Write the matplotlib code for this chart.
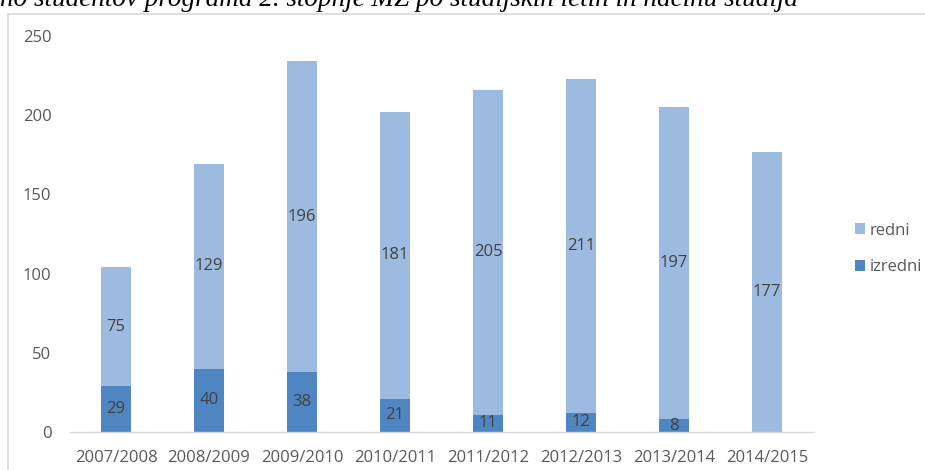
import matplotlib
matplotlib.use("Agg")
import matplotlib.pyplot as plt
from matplotlib.patches import Rectangle

years = ["2007/2008", "2008/2009", "2009/2010", "2010/2011", "2011/2012",
         "2012/2013", "2013/2014", "2014/2015"]
izredni = [29, 40, 38, 21, 11, 12, 8, 0]
redni = [75, 129, 196, 181, 205, 211, 197, 177]
yticks = [0, 50, 100, 150, 200, 250]

c_redni = "#9dbbe1"
c_izredni = "#4f86c1"
txt = "#595959"

plt.rcParams['font.family'] = ['Open Sans', 'DejaVu Sans']

W, H = 925, 470
fig = plt.figure(figsize=(W / 100, H / 100), dpi=100)
fig.patch.set_facecolor("white")

# chart border
fig.add_artist(Rectangle((8 / W, -0.01), (W - 8) / W + 0.01, (H - 13.5) / H + 0.01,
                         transform=fig.transFigure, fill=False, edgecolor="#d9d9d9", lw=1.2))

fig.text(0 / W, (H - 6) / H, "no študentov programa 2. stopnje MŽ po študijskih letih in načinu študija",
         ha="left", va="baseline", fontsize=19.5, style="italic", family="Liberation Serif",
         color="black")

left, right = 69.5, 813.5
y0, y250 = 432, 36
ax = fig.add_axes([left / W, (H - y0) / H, (right - left) / W, (y0 - y250) / H])
x = list(range(len(years)))
w = 0.32
b1 = ax.bar(x, izredni, w, color=c_izredni, label="izredni", zorder=2)
b2 = ax.bar(x, redni, w, bottom=izredni, color=c_redni, label="redni", zorder=2)

for i in x:
    if izredni[i] > 0:
        ax.text(i, izredni[i] / 2, str(izredni[i]), ha="center", va="center",
                fontsize=12, color="#404040")
    ax.text(i, izredni[i] + redni[i] / 2, str(redni[i]), ha="center", va="center",
            fontsize=12, color="#404040")

ax.set_xlim(-0.5, len(years) - 0.5)
ax.set_ylim(0, 250)
ax.set_yticks(yticks)
ax.set_xticks(x)
ax.set_xticklabels(years)
for s in ["top", "right", "left"]:
    ax.spines[s].set_visible(False)
ax.spines["bottom"].set_color("#d9d9d9")
ax.spines["bottom"].set_linewidth(1)
ax.tick_params(axis="both", length=0, labelsize=12, colors=txt)
ax.tick_params(axis="y", pad=13)
ax.tick_params(axis="x", pad=13)

handles = [b2, b1]
leg = fig.legend(handles, ["redni", "izredni"], loc="center left",
                 bbox_to_anchor=(840 / W, (H - 249) / H), frameon=False,
                 fontsize=12, handlelength=0.6, handleheight=0.6,
                 labelspacing=1.25, handletextpad=0.3)
for t in leg.get_texts():
    t.set_color(txt)

fig.savefig("out.png", dpi=100, facecolor="white")
